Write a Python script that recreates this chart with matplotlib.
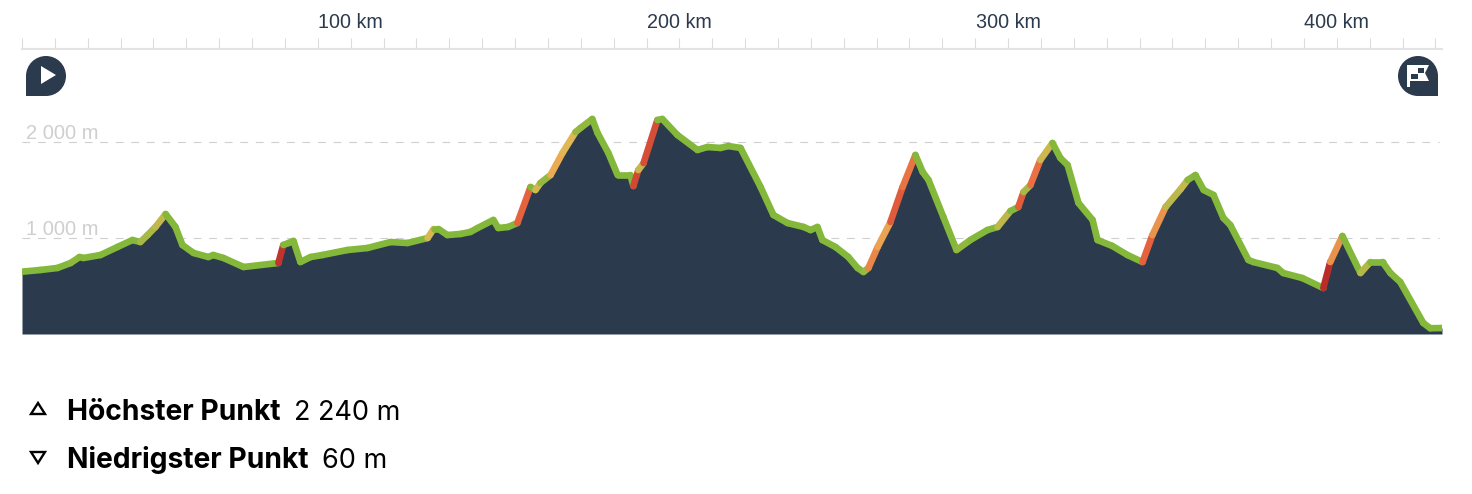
import numpy as np
import matplotlib.pyplot as plt
from matplotlib.collections import LineCollection
from matplotlib.colors import LinearSegmentedColormap
from matplotlib.patches import Circle, Rectangle, Polygon

# elevation profile
km = [0, 5.6, 10.8, 14.8, 17.5, 18.7, 23.9, 29.0, 33.6, 36.0, 38.2, 40.6, 43.7, 46.7, 48.8, 52.2,
      56.7, 58.2, 61.3, 67.4, 78.0, 79.5, 81.1, 82.6, 84.7, 87.8, 91.4, 99.0, 105.1, 112.1, 117.3,
      123.4, 125.2, 126.7, 129.4, 133.4, 136.4, 138.6, 143.4, 144.9, 147.9, 150.7, 154.7, 156.2,
      157.7, 160.8, 164.4, 168.4, 169.9, 173.5, 175.1, 178.4, 181.2, 185.1, 186.0, 187.5, 189.1,
      193.3, 194.8, 199.4, 205.5, 208.5, 212.5, 214.9, 218.6, 224.7, 228.6, 232.9, 237.8, 239.9,
      242.0, 243.5, 247.5, 251.4, 254.2, 256.0, 257.5, 260.3, 264.2, 267.9, 271.8, 274.0, 275.8,
      280.3, 284.3, 288.5, 293.7, 296.8, 300.7, 303.1, 304.7, 306.8, 309.8, 313.5, 315.9, 318.1,
      321.4, 325.7, 327.2, 331.7, 336.3, 340.9, 343.9, 347.9, 352.5, 354.6, 357.0, 359.5, 362.5,
      365.5, 367.6, 373.1, 374.6, 381.9, 383.7, 389.5, 395.9, 398.0, 401.7, 407.2, 410.2, 413.9,
      416.3, 419.3, 426.3, 428.4, 432.0]
elev = [649, 667, 688, 740, 802, 792, 823, 906, 979, 958, 1031, 1115, 1250, 1115, 927, 844,
        802, 823, 792, 698, 740, 927, 948, 969, 750, 802, 823, 875, 896, 958, 948,
        1000, 1094, 1094, 1031, 1042, 1063, 1104, 1188, 1104, 1115, 1156, 1531, 1500,
        1573, 1656, 1885, 2104, 2146, 2240, 2094, 1885, 1656, 1656, 1542, 1708, 1781,
        2229, 2240, 2073, 1917, 1948, 1938, 1958, 1938, 1531, 1240, 1156, 1115, 1083,
        1115, 979, 906, 802, 688, 646, 688, 906, 1167, 1531, 1865, 1688, 1604,
        1219, 875, 979, 1083, 1115, 1281, 1323, 1479, 1552, 1813, 1990, 1833, 1760,
        1365, 1188, 979, 917, 823, 750, 1031, 1323, 1510, 1604, 1656, 1500, 1448,
        1208, 1135, 771, 750, 688, 635, 583, 479, 750, 1021, 635, 750, 750,
        635, 542, 115, 60, 62]

km_labels = [100, 200, 300, 400]
km_minor = [k for k in range(0, 440, 10) if k not in km_labels]
elev_labels = [1000, 2000]
stats = [("Höchster Punkt", "2 240 m"), ("Niedrigster Punkt", "60 m")]

DARK = '#2b3a4d'
GRID = '#cfcfcf'

km = np.array(km)
elev = np.array(elev)

fig = plt.figure(figsize=(14.72, 4.94), dpi=100)
ax = fig.add_axes([22 / 1472, (494 - 334) / 494, 1420 / 1472, 285 / 494])
ax.set_xlim(0, 432)
ax.set_ylim(0, 2969)

# gridlines and labels
ax.hlines(elev_labels, 0, 431, color=GRID, lw=0.8, linestyle=(0, (7, 7)), zorder=1)
for e in elev_labels:
    ax.text(1.3, e + 30, f"{e // 1000} 000 m", color=GRID, fontsize=14.5,
            family='Liberation Sans', va='baseline', zorder=1)

ax.fill_between(km, elev, 0, color=DARK, lw=0, zorder=2)

# profile line coloured by gradient
cmap = LinearSegmentedColormap.from_list('grade', [
    (0.0, '#84b83a'), (0.15, '#84b83a'), (0.3, '#b5b84a'), (0.45, '#eab857'),
    (0.7, '#e8663f'), (1.0, '#b92c2b')])
pts = np.column_stack([km, elev])
segs = np.stack([pts[:-1], pts[1:]], axis=1)
grade = np.diff(elev) / np.diff(km) / 10
lc = LineCollection(segs, array=grade, cmap=cmap, clim=(0, 13), linewidth=4.8,
                    capstyle='round', joinstyle='round', zorder=3)
ax.add_collection(lc)

# distance axis on top
for name in ['left', 'right', 'bottom']:
    ax.spines[name].set_visible(False)
ax.spines['top'].set_color('#e3e3e3')
ax.spines['top'].set_linewidth(1.5)
ax.set_yticks([])
ax.xaxis.tick_top()
ax.set_xticks(km_labels)
ax.set_xticklabels([f"{k} km" for k in km_labels], fontsize=14.2, color=DARK,
                   family='Liberation Sans')
ax.set_xticks(km_minor, minor=True)
ax.tick_params(axis='x', which='both', length=8, width=0.8, color='#dcdcdc', pad=4)

# overlay in pixel units for icons and footer
ov = fig.add_axes([0, 0, 1, 1])
ov.set_xlim(0, 1472)
ov.set_ylim(494, 0)
ov.axis('off')
ov.patch.set_alpha(0)

# start marker
ov.add_patch(Circle((46, 76), 20, color=DARK, lw=0))
ov.add_patch(Rectangle((26, 76), 20, 20, color=DARK, lw=0))
ov.add_patch(Polygon([(41, 66), (56, 75), (41, 84)], color='white', lw=0))

# finish marker
ov.add_patch(Circle((1418, 76), 20, color=DARK, lw=0))
ov.add_patch(Rectangle((1418, 76), 20, 20, color=DARK, lw=0))
ov.add_patch(Polygon([(1407, 65), (1429, 65), (1425, 73), (1429, 81), (1410, 81), (1410, 87), (1407, 87)],
                     color='white', lw=0))
ov.add_patch(Rectangle((1418, 68), 6, 5, color=DARK, lw=0))
ov.add_patch(Rectangle((1411, 74), 7, 5, color=DARK, lw=0))

# footer
ov.add_patch(Polygon([(38, 403), (31, 414), (45, 414)], closed=True, fill=False, ec='black', lw=1.7))
ov.add_patch(Polygon([(38, 463), (31, 452), (45, 452)], closed=True, fill=False, ec='black', lw=1.7))
for (label, value), y, xv in zip(stats, [420, 468], [294, 322]):
    ov.text(67, y, label, fontsize=20.3, family='Inter', weight='bold', color='black', va='baseline')
    ov.text(xv, y, value, fontsize=19.5, family='Inter', color='black', va='baseline')

fig.savefig('out.png', dpi=100)
plt.close()
